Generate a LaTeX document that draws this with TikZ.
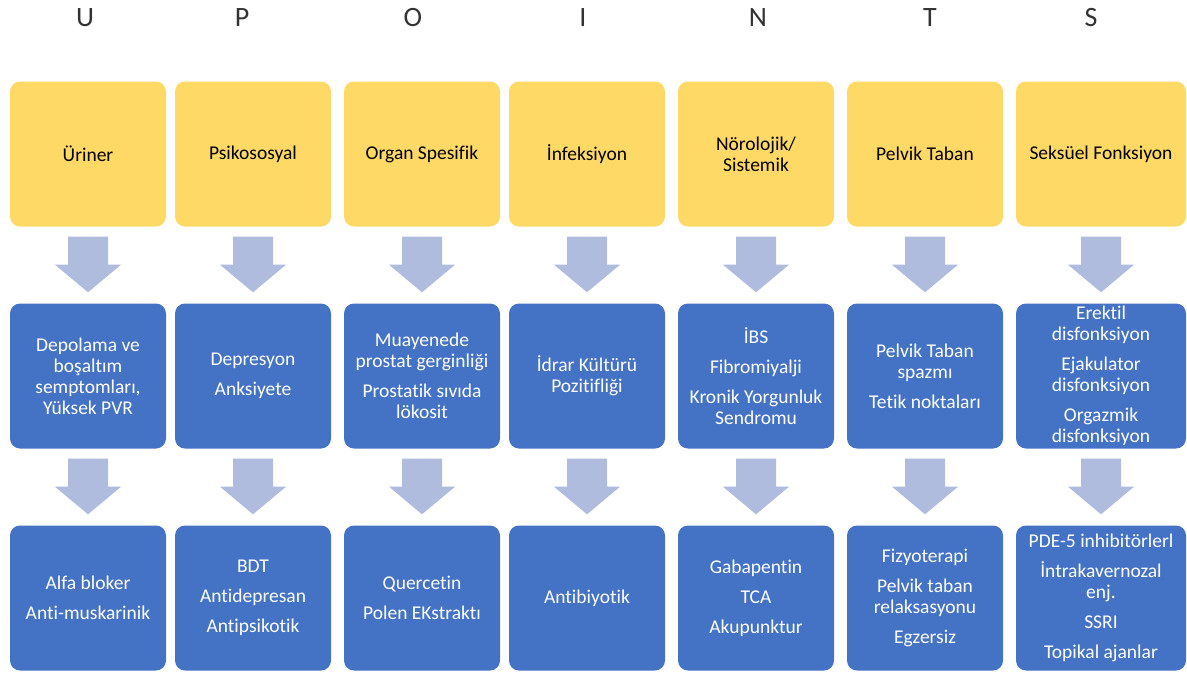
\documentclass[tikz,border=0pt]{standalone}
\usepackage{fontspec}
\setmainfont{Carlito}[Ligatures=NoCommon]
\usepackage{xcolor}
\usetikzlibrary{calc}
\definecolor{domyellow}{RGB}{255,217,102}
\definecolor{boxblue}{RGB}{68,114,196}
\definecolor{arrowblue}{RGB}{176,188,222}
\definecolor{lettergray}{RGB}{50,50,50}

\tikzset{
  upletter/.style={text=lettergray, font=\fontsize{28}{28}\selectfont},
  domainbox/.style={fill=domyellow, rounded corners=10pt, minimum width=156pt,
    minimum height=145pt, align=center, text=black, inner sep=2pt,
    font=\fontsize{19.5}{21}\selectfont},
  bluebox/.style={fill=boxblue, rounded corners=10pt, minimum width=156pt,
    minimum height=145pt, align=center, text=white, inner sep=2pt,
    font=\fontsize{19.5}{21}\selectfont},
  widebox/.style={minimum width=170pt},
  blockarrow/.style={fill=arrowblue}
}

\begin{document}
\begin{tikzpicture}[x=1pt, y=-1pt]

% Frame
\useasboundingbox (0,0) rectangle (1187,675);

% Letters
\foreach \x/\ltr in {85/U,242/P,413/O,583/I,758/N,930/T,1091/S} {
    \node[upletter] (ltr\ltr) at (\x,18) {\ltr};
}

% Domains
\node[domainbox] (dom1) at (88,154) {Üriner};
\node[domainbox] (dom2) at (253,154) {Psikososyal};
\node[domainbox] (dom3) at (422,154) {Organ Spesifik};
\node[domainbox] (dom4) at (587,154) {İnfeksiyon};
\node[domainbox] (dom5) at (756,154) {Nörolojik/\\Sistemik};
\node[domainbox] (dom6) at (925,154) {Pelvik Taban};
\node[domainbox, widebox] (dom7) at (1101,154) {Seksüel Fonksiyon};

% Findings
\node[bluebox] (fnd1) at (88,376) {Depolama ve\\boşaltım\\semptomları,\\Yüksek PVR};
\node[bluebox] (fnd2) at (253,376) {Depresyon\\[9pt]Anksiyete};
\node[bluebox] (fnd3) at (422,376) {Muayenede\\prostat gerginliği\\[9pt]Prostatik sıvıda\\lökosit};
\node[bluebox] (fnd4) at (587,376) {İdrar Kültürü\\Pozitifliği};
\node[bluebox] (fnd5) at (756,376) {İBS\\[9pt]Fibromiyalji\\[9pt]Kronik Yorgunluk\\Sendromu};
\node[bluebox] (fnd6) at (925,376) {Pelvik Taban\\spazmı\\[9pt]Tetik noktaları};
\node[bluebox, widebox] (fnd7) at (1101,376) {Erektil\\disfonksiyon\\[9pt]Ejakulator\\disfonksiyon\\[9pt]Orgazmik\\disfonksiyon};

% Treatments
\node[bluebox] (trt1) at (88,598) {Alfa bloker\\[9pt]Anti-muskarinik};
\node[bluebox] (trt2) at (253,598) {BDT\\[9pt]Antidepresan\\[9pt]Antipsikotik};
\node[bluebox] (trt3) at (422,598) {Quercetin\\[9pt]Polen EKstraktı};
\node[bluebox] (trt4) at (587,598) {Antibiyotik};
\node[bluebox] (trt5) at (756,598) {Gabapentin\\[9pt]TCA\\[9pt]Akupunktur};
\node[bluebox] (trt6) at (925,598) {Fizyoterapi\\[9pt]Pelvik taban\\relaksasyonu\\[9pt]Egzersiz};
\node[bluebox, widebox] (trt7) at (1101,598) {PDE-5 inhibitörlerl\\[9pt]İntrakavernozal\\enj.\\[9pt]SSRI\\[9pt]Topikal ajanlar};

% Block arrows
\foreach \a/\b in {dom1/fnd1,dom2/fnd2,dom3/fnd3,dom4/fnd4,dom5/fnd5,dom6/fnd6,dom7/fnd7,
                   fnd1/trt1,fnd2/trt2,fnd3/trt3,fnd4/trt4,fnd5/trt5,fnd6/trt6,fnd7/trt7} {
    \fill[blockarrow] ($(\a.south)+(-20,10)$) -- ($(\a.south)+(20,10)$)
        -- ($(\a.south)+(20,38)$) -- ($(\a.south)+(33,38)$)
        -- ($(\b.north)+(0,-11)$)
        -- ($(\a.south)+(-33,38)$) -- ($(\a.south)+(-20,38)$) -- cycle;
}

\end{tikzpicture}
\end{document}
